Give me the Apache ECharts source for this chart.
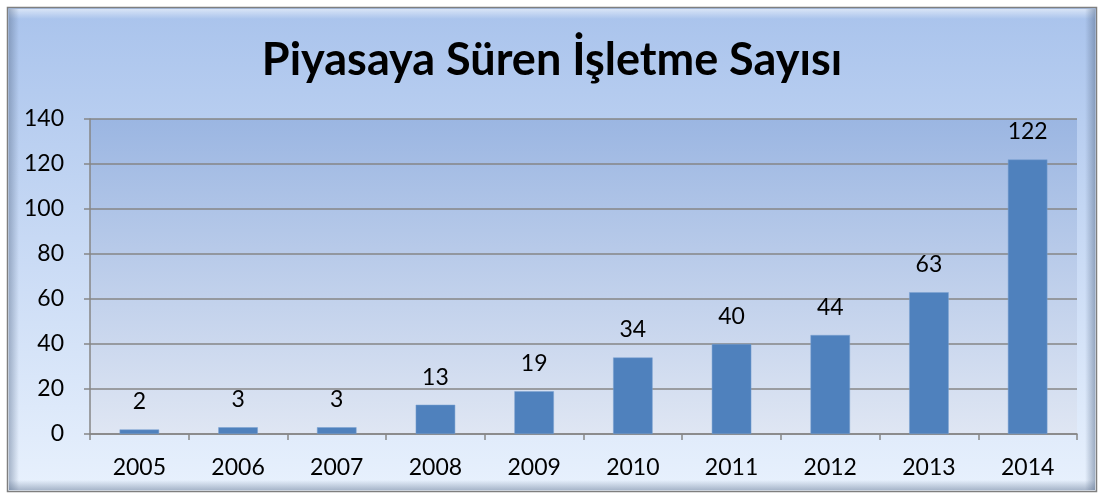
<!DOCTYPE html>
<html><head><meta charset="utf-8">
<script src="https://cdn.jsdelivr.net/npm/echarts@6/dist/echarts.min.js"></script>
<style>html,body{margin:0;padding:0;background:#fff}#c{width:1104px;height:498px}</style>
</head><body><div id="c"></div>
<script>
const categories = ['2005','2006','2007','2008','2009','2010','2011','2012','2013','2014'];
const values = [2, 3, 3, 13, 19, 34, 40, 44, 63, 122];
const titleText = 'Piyasaya Süren İşletme Sayısı';

const chart = echarts.init(document.getElementById('c'));
const lg = (c0, c1) => new echarts.graphic.LinearGradient(0, 0, 0, 1, [{offset:0,color:c0},{offset:1,color:c1}]);
chart.setOption({
  animation: false,
  graphic: [
    {type:'rect', z:-10, shape:{x:7.5,y:7.5,width:1089,height:484}, style:{fill:lg('#a9c3ec','#e8f1fd'), stroke:'#7f7f7f', lineWidth:1.5}},
    {type:'rect', z:-9, shape:{x:9,y:9,width:1086,height:10}, style:{fill:new echarts.graphic.LinearGradient(0,0,0,1,[{offset:0,color:'rgba(255,255,255,0.55)'},{offset:1,color:'rgba(255,255,255,0)'}])}},
    {type:'rect', z:-9, shape:{x:9,y:9,width:10,height:481}, style:{fill:new echarts.graphic.LinearGradient(0,0,1,0,[{offset:0,color:'rgba(90,110,140,0.45)'},{offset:1,color:'rgba(90,110,140,0)'}])}},
    {type:'rect', z:-9, shape:{x:1085,y:9,width:10,height:481}, style:{fill:new echarts.graphic.LinearGradient(0,0,1,0,[{offset:0,color:'rgba(90,110,140,0)'},{offset:1,color:'rgba(90,110,140,0.5)'}])}},
    {type:'rect', z:-9, shape:{x:9,y:480,width:1086,height:10}, style:{fill:new echarts.graphic.LinearGradient(0,0,0,1,[{offset:0,color:'rgba(90,110,140,0)'},{offset:1,color:'rgba(90,110,140,0.45)'}])}},
    {type:'rect', z:-8, shape:{x:91,y:120,width:985,height:9}, style:{fill:'rgba(255,255,255,0.12)'}}
  ],
  title: {
    text: titleText, left: 'center', top: 33,
    textStyle: {fontFamily: 'Lato', fontWeight: 'bold', fontSize: 45, color: '#000'}
  },
  grid: {left: 90, right: 27, top: 119, bottom: 64, show: true, borderWidth: 0,
    backgroundColor: lg('#9bb6e2', '#dfe6f3')},
  xAxis: {
    type: 'category', data: categories,
    axisLine: {lineStyle: {color: '#868686', width: 1.5}},
    axisTick: {show: true, length: 6, lineStyle: {color: '#868686', width: 1.5}},
    axisLabel: {fontFamily: 'Lato', fontSize: 23, color: '#000', margin: 22}
  },
  yAxis: {
    type: 'value', min: 0, max: 140, interval: 20,
    axisLine: {show: true, lineStyle: {color: '#868686', width: 1.5}},
    axisTick: {show: true, length: 6, inside: false, lineStyle: {color: '#868686', width: 1.5}},
    splitLine: {lineStyle: {color: '#868686', width: 1.5}},
    axisLabel: {fontFamily: 'Lato', fontSize: 23, color: '#000', margin: 26}
  },
  series: [{
    type: 'bar', data: values, barWidth: '40%',
    itemStyle: {color: '#4f81bd', borderColor: '#7aa0d0', borderWidth: 0.5},
    label: {show: true, position: 'top', distance: 16, fontFamily: 'Lato', fontSize: 23, color: '#000'}
  }]
});
</script></body></html>
